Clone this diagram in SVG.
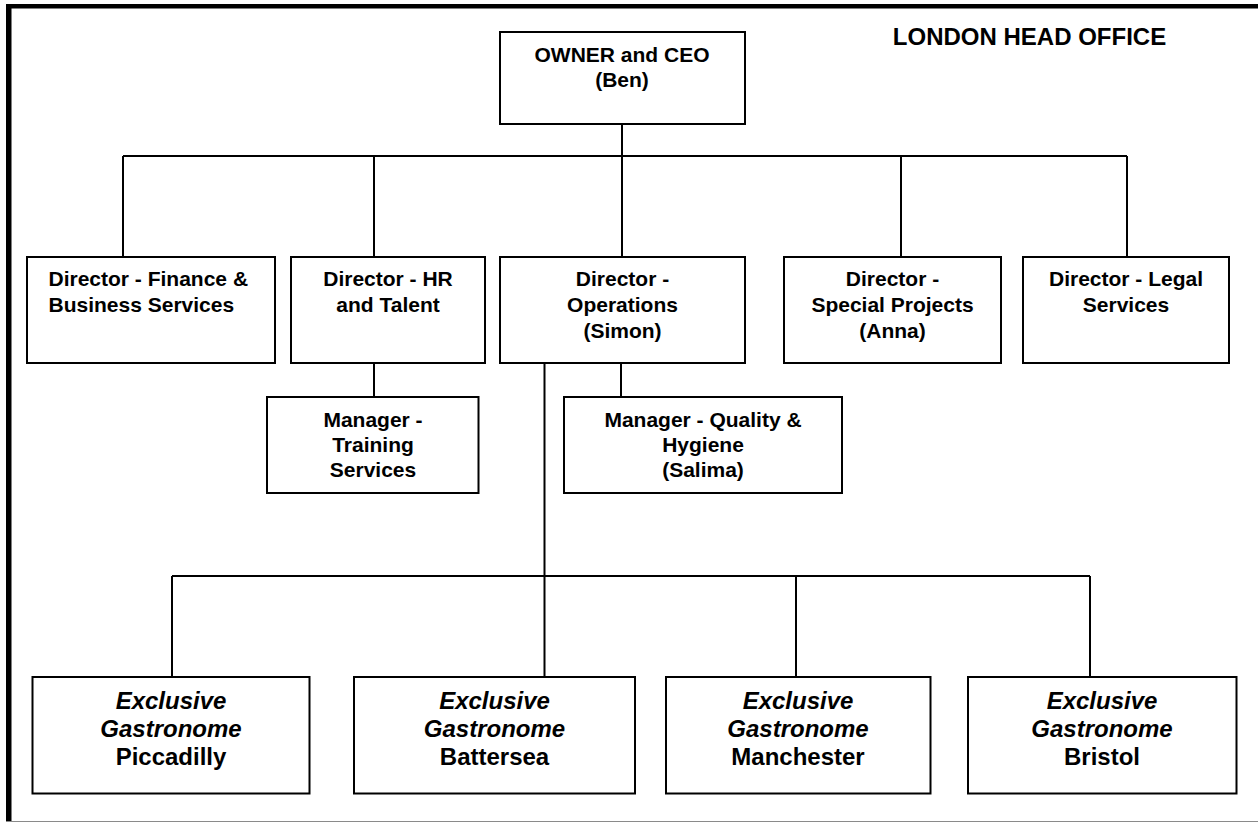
<svg xmlns="http://www.w3.org/2000/svg" width="1258" height="823" viewBox="0 0 1258 823">
<style>
.box{fill:#fff;stroke:#000;stroke-width:2}
.ln{stroke:#000;stroke-width:2;fill:none}
text{font-family:"Liberation Sans",Arial,sans-serif;font-weight:bold;fill:#000;text-anchor:middle}
.t{font-size:21px}
.b{font-size:24px}
.i{font-style:italic}
</style>
<rect x="0" y="0" width="1258" height="823" fill="#fff"/>
<g id="frame">
<rect x="6" y="4" width="1252" height="4.5" fill="#000"/>
<rect x="6" y="4" width="5.5" height="818" fill="#000"/>
<line x1="6" y1="821.5" x2="1258" y2="821.5" stroke="#8a8a8a" stroke-width="1.2"/>
</g>
<text id="title" class="b" x="1029.5" y="45">LONDON HEAD OFFICE</text>
<g id="connectors">
<line class="ln" x1="622" y1="124" x2="622" y2="257"/>
<line class="ln" x1="123" y1="156" x2="1127" y2="156"/>
<line class="ln" x1="123" y1="156" x2="123" y2="257"/>
<line class="ln" x1="374" y1="156" x2="374" y2="257"/>
<line class="ln" x1="901" y1="156" x2="901" y2="257"/>
<line class="ln" x1="1127" y1="156" x2="1127" y2="257"/>
<line class="ln" x1="374" y1="363" x2="374" y2="397"/>
<line class="ln" x1="621" y1="363" x2="621" y2="397"/>
<line class="ln" x1="544.5" y1="363" x2="544.5" y2="677"/>
<line class="ln" x1="172" y1="576" x2="1090" y2="576"/>
<line class="ln" x1="172" y1="576" x2="172" y2="677"/>
<line class="ln" x1="796" y1="576" x2="796" y2="677"/>
<line class="ln" x1="1090" y1="576" x2="1090" y2="677"/>
</g>
<g id="ceo">
<rect class="box" x="500" y="32" width="245" height="92"/>
<text class="t" x="622" y="62">OWNER and CEO</text>
<text class="t" x="622" y="87">(Ben)</text>
</g>
<g id="dir-finance">
<rect class="box" x="27" y="257" width="248" height="106"/>
<text class="t" x="48.5" y="286" style="text-anchor:start">Director - Finance &amp;</text>
<text class="t" x="48.5" y="312" style="text-anchor:start">Business Services</text>
</g>
<g id="dir-hr">
<rect class="box" x="291" y="257" width="194" height="106"/>
<text class="t" x="388" y="286">Director - HR</text>
<text class="t" x="388" y="312">and Talent</text>
</g>
<g id="dir-ops">
<rect class="box" x="500" y="257" width="245" height="106"/>
<text class="t" x="622.5" y="286">Director -</text>
<text class="t" x="622.5" y="312">Operations</text>
<text class="t" x="622.5" y="337.5">(Simon)</text>
</g>
<g id="dir-special">
<rect class="box" x="784" y="257" width="217" height="106"/>
<text class="t" x="892.5" y="286">Director -</text>
<text class="t" x="892.5" y="312">Special Projects</text>
<text class="t" x="892.5" y="337.5">(Anna)</text>
</g>
<g id="dir-legal">
<rect class="box" x="1023" y="257" width="206" height="106"/>
<text class="t" x="1126" y="286">Director - Legal</text>
<text class="t" x="1126" y="312">Services</text>
</g>
<g id="mgr-training">
<rect class="box" x="267" y="397" width="211.5" height="96"/>
<text class="t" x="373" y="427">Manager -</text>
<text class="t" x="373" y="452">Training</text>
<text class="t" x="373" y="477">Services</text>
</g>
<g id="mgr-quality">
<rect class="box" x="564" y="397" width="278" height="96"/>
<text class="t" x="703" y="427">Manager - Quality &amp;</text>
<text class="t" x="703" y="452">Hygiene</text>
<text class="t" x="703" y="477">(Salima)</text>
</g>
<g id="eg-piccadilly">
<rect class="box" x="32.5" y="677" width="277" height="116.5"/>
<text class="b i" x="171" y="708.5">Exclusive</text>
<text class="b i" x="171" y="737">Gastronome</text>
<text class="b" x="171" y="765">Piccadilly</text>
</g>
<g id="eg-battersea">
<rect class="box" x="354" y="677" width="281" height="116.5"/>
<text class="b i" x="494.5" y="708.5">Exclusive</text>
<text class="b i" x="494.5" y="737">Gastronome</text>
<text class="b" x="494.5" y="765">Battersea</text>
</g>
<g id="eg-manchester">
<rect class="box" x="666" y="677" width="264.5" height="116.5"/>
<text class="b i" x="798" y="708.5">Exclusive</text>
<text class="b i" x="798" y="737">Gastronome</text>
<text class="b" x="798" y="765">Manchester</text>
</g>
<g id="eg-bristol">
<rect class="box" x="968" y="677" width="268.5" height="116.5"/>
<text class="b i" x="1102" y="708.5">Exclusive</text>
<text class="b i" x="1102" y="737">Gastronome</text>
<text class="b" x="1102" y="765">Bristol</text>
</g>
</svg>
